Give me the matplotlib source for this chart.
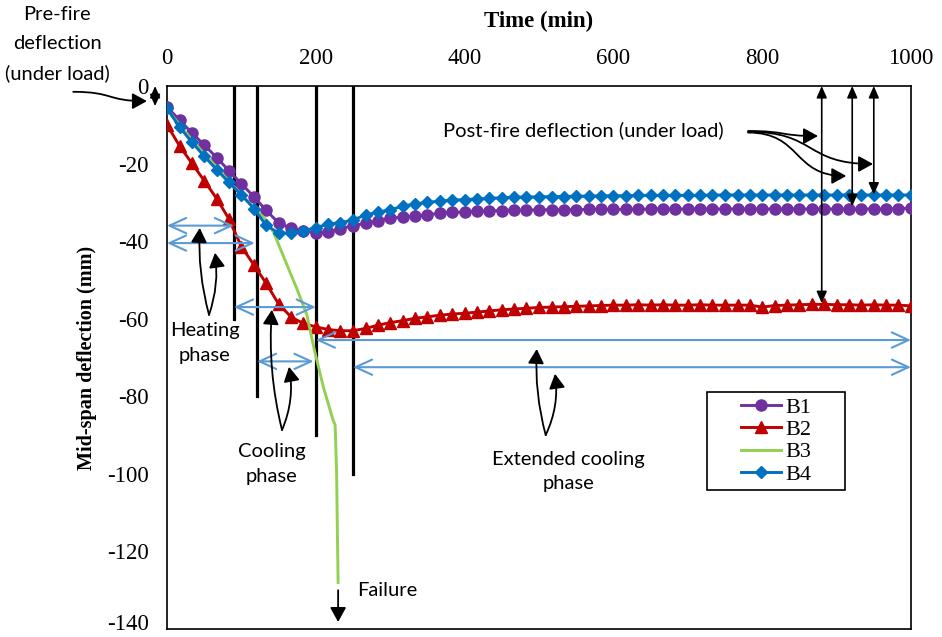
import matplotlib.pyplot as plt
from matplotlib.patches import FancyArrowPatch, Rectangle
from matplotlib.path import Path
from matplotlib.transforms import ScaledTranslation

plt.rcParams['axes.unicode_minus'] = False

# time (min) for the marked series B1, B2, B4
time_min = [0, 17, 33, 50, 67, 83, 100, 117, 133, 150, 167, 183, 200, 217, 233, 250,
            267, 283, 300, 317, 333, 350, 367, 383, 400, 417, 433, 450, 467, 483, 500,
            517, 533, 550, 567, 583, 600, 617, 633, 650, 667, 683, 700, 717, 733, 750,
            767, 783, 800, 817, 833, 850, 867, 883, 900, 917, 933, 950, 967, 983, 1000]

b1 = [-5.4, -8.8, -12.0, -15.2, -18.5, -21.8, -25.2, -28.6, -32.0, -35.3, -36.7, -37.4,
      -37.8, -37.6, -36.8, -36.0, -35.4, -34.7, -34.1, -33.8, -33.5, -33.2, -32.8, -32.6,
      -32.5, -32.3, -32.2, -32.1, -32.0, -32.0, -31.9, -31.9, -31.9, -31.9, -31.8, -31.8,
      -31.8, -31.8, -31.8, -31.7, -31.7, -31.7, -31.7, -31.7, -31.7, -31.7, -31.7, -31.7,
      -31.7, -31.7, -31.7, -31.7, -31.7, -31.7, -31.7, -31.7, -31.7, -31.7, -31.7, -31.6,
      -31.5]

b2 = [-10.0, -15.5, -19.8, -24.4, -29.1, -34.2, -41.4, -46.2, -50.8, -56.2, -59.6, -61.2,
      -62.1, -62.8, -63.1, -63.1, -62.5, -61.7, -61.0, -60.5, -59.9, -59.5, -59.1, -58.8,
      -58.6, -58.3, -58.0, -57.7, -57.5, -57.3, -57.1, -57.0, -56.9, -56.8, -56.7, -56.6,
      -56.5, -56.5, -56.4, -56.5, -56.4, -56.5, -56.5, -56.4, -56.5, -56.5, -56.5, -56.5,
      -57.0, -56.6, -56.5, -56.4, -56.3, -56.3, -56.4, -56.4, -56.5, -56.4, -56.5, -56.5,
      -56.7]

b4 = [-5.8, -10.6, -14.4, -18.1, -21.6, -24.8, -28.1, -31.6, -35.9, -37.9, -37.9, -37.4,
      -36.5, -35.6, -35.2, -34.6, -33.2, -32.6, -31.9, -31.0, -30.4, -30.0, -29.7, -29.4,
      -29.3, -29.1, -29.0, -28.8, -28.7, -28.6, -28.6, -28.5, -28.5, -28.4, -28.4, -28.3,
      -28.3, -28.3, -28.2, -28.2, -28.2, -28.2, -28.2, -28.2, -28.1, -28.1, -28.1, -28.1,
      -28.1, -28.1, -28.1, -28.1, -28.1, -28.1, -28.1, -28.1, -28.1, -28.1, -28.1, -28.1,
      -28.1]

# B3 failed during cooling
time_b3 = [0, 17, 33, 50, 67, 83, 100, 117, 133, 143, 161, 175, 188, 198, 210, 223, 226,
           228, 229, 230]
b3 = [-6.0, -10.0, -13.8, -17.5, -21.0, -24.5, -28.0, -31.5, -34.5, -37.6, -46.0, -52.5,
      -59.0, -68.0, -77.5, -86.0, -87.4, -100.0, -115.0, -128.0]

x_ticks = [0, 200, 400, 600, 800, 1000]
y_ticks = [0, -20, -40, -60, -80, -100, -120, -140]

# phase boundary lines: time and how far down they are drawn
phase_t = [90, 121, 200, 250]
phase_end = [-60, -80, -90, -100]

# light blue phase spans: (start, end, level)
spans = [(0, 90, -36), (0, 118, -40.5), (90, 200, -57), (121, 197, -71),
         (200, 1000, -65.5), (250, 1000, -72.5)]

# post-fire deflection markers: time, level reached
post_t = [880, 921, 950]
post_y = [-56.0, -31.0, -28.0]

serif = 'Liberation Serif'
sans = 'Lato'
note_size = 14.5

fig = plt.figure(figsize=(9.42, 6.37), dpi=100)
ax = fig.add_axes([167 / 942, 1 - 629 / 637, 744 / 942, 543 / 637])

for t, yb in zip(phase_t, phase_end):
    ax.plot([t, t], [0, yb], color='black', lw=2.3, zorder=2)

ax.plot(time_min, b1, color='#7030A0', marker='o', ms=8, lw=2.1, label='B1', zorder=3)
ax.plot(time_min, b2, color='#C00000', marker='^', ms=8.5, lw=2.1, label='B2', zorder=3)
ax.plot(time_b3, b3, color='#92D050', lw=2.1, label='B3', zorder=3)
ax.plot(time_min, b4, color='#0070C0', marker='D', ms=5.8, lw=2.1, label='B4', zorder=3)

for t0, t1, yv in spans:
    ax.annotate('', xy=(t1, yv), xytext=(t0, yv),
                arrowprops=dict(arrowstyle='<->,head_length=1.2,head_width=0.55',
                                color='#5B9BD5', lw=1.5, shrinkA=0, shrinkB=0,
                                mutation_scale=10), zorder=4)

for t, yv in zip(post_t, post_y):
    ax.annotate('', xy=(t, yv), xytext=(t, 0),
                arrowprops=dict(arrowstyle='<|-|>,head_length=0.5,head_width=0.22',
                                color='black', lw=1.2, shrinkA=0, shrinkB=0,
                                mutation_scale=14), zorder=5)


def curved(p0, p1, rad):
    ax.add_patch(FancyArrowPatch(p0, p1, connectionstyle=f'arc3,rad={rad}',
                                 arrowstyle='-|>,head_length=0.4,head_width=0.22',
                                 mutation_scale=22, color='black', lw=1.3,
                                 shrinkA=0, shrinkB=0, zorder=5, clip_on=False))


def s_curve(p0, p1):
    dx = p1[0] - p0[0]
    path = Path([p0, (p0[0] + dx * 0.55, p0[1]), (p1[0] - dx * 0.55, p1[1]), p1],
                [Path.MOVETO, Path.CURVE4, Path.CURVE4, Path.CURVE4])
    ax.add_patch(FancyArrowPatch(path=path,
                                 arrowstyle='-|>,head_length=0.4,head_width=0.22',
                                 mutation_scale=22, color='black', lw=1.3,
                                 zorder=5, clip_on=False))


# heating / cooling / extended cooling pointers
curved((56.5, -59), (44, -36.6), -0.08)
curved((56.5, -59), (64.5, -43), 0.12)
curved((154.6, -88.7), (141, -57.7), -0.08)
curved((154.6, -88.7), (164, -72.4), 0.15)
curved((509, -90), (497, -67.8), -0.08)
curved((509, -90), (521.5, -74.2), 0.15)

# post-fire pointers
s_curve((781, -11.6), (875, -12.9))
s_curve((781, -11.8), (949, -20.1))
s_curve((781, -12.0), (913, -23.2))

# pre-fire pointer and deflection
s_curve((-126, -1.5), (-27, -3.9))
ax.annotate('', xy=(-16, -5.2), xytext=(-16, 0), annotation_clip=False,
            arrowprops=dict(arrowstyle='<|-|>,head_length=0.5,head_width=0.22',
                            color='black', lw=1.2, shrinkA=0, shrinkB=0,
                            mutation_scale=14))

# failure arrow
ax.annotate('', xy=(230, -138.2), xytext=(230, -130),
            arrowprops=dict(arrowstyle='-|>,head_length=0.4,head_width=0.22',
                            color='black', lw=1.3, shrinkA=0, shrinkB=0,
                            mutation_scale=22))

ax.text(51, -66.3, 'Heating\nphase', family=sans, fontsize=note_size, ha='center',
        va='center', linespacing=1.55)
ax.text(141, -97.5, 'Cooling\nphase', family=sans, fontsize=note_size, ha='center',
        va='center', linespacing=1.55)
ax.text(539, -99.5, 'Extended cooling\nphase', family=sans, fontsize=note_size,
        ha='center', va='center', linespacing=1.5)
ax.text(255, -130, 'Failure', family=sans, fontsize=note_size, ha='left', va='center')
ax.text(559, -11.3, 'Post-fire deflection (under load)', family=sans, fontsize=note_size,
        ha='center', va='center')
fig.text(57 / 942, 1 - 44 / 637, 'Pre-fire\ndeflection\n(under load)', family=sans,
         fontsize=note_size, ha='center', va='center', linespacing=1.85)

ax.set_xlim(0, 1000)
ax.set_ylim(-140, 0)
ax.set_xticks(x_ticks)
ax.set_yticks(y_ticks)
ax.xaxis.tick_top()
ax.xaxis.set_label_position('top')
ax.tick_params(length=0, labelsize=16.5, labelfontfamily=serif)
ax.tick_params(axis='x', pad=12)
ax.tick_params(axis='y', pad=13)
for s in ax.spines.values():
    s.set_linewidth(1.2)

# keep the lowest tick label inside the figure
lowest = ax.get_yticklabels()[-1]
lowest.set_transform(lowest.get_transform() + ScaledTranslation(0, 7 / 100, fig.dpi_scale_trans))

ax.set_xlabel('Time (min)', family=serif, fontsize=16.5, fontweight='bold', labelpad=15)
ax.set_ylabel('Mid-span deflection (mm)', family=serif, fontsize=14.5, fontweight='bold',
              labelpad=7)

# legend with a wide Excel-style frame drawn separately
leg = ax.legend(loc='center', bbox_to_anchor=((776 - 167) / 744, 1 - (441 - 86) / 543),
                frameon=False, prop={'family': serif, 'size': 16}, handlelength=1.8,
                handletextpad=0.2, labelspacing=0.08, borderpad=0, borderaxespad=0)
ax.add_patch(Rectangle(((707 - 167) / 744, 1 - (490 - 86) / 543), 138 / 744, 98 / 543,
                       transform=ax.transAxes, fill=False, edgecolor='black', lw=1.2,
                       zorder=6))

fig.savefig('out.png', dpi=100)
